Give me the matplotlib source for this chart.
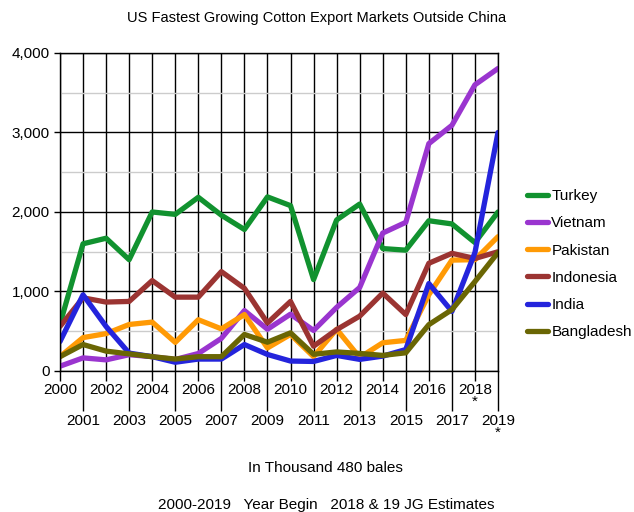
import matplotlib
matplotlib.use("Agg")
import matplotlib.pyplot as plt

plt.rcParams['font.family'] = ['Liberation Sans', 'DejaVu Sans']

# годы (2018 и 2019 - оценки)
years = list(range(2000, 2020))

# экспорт хлопка США, тыс. кип по 480 фунтов
turkey = [590, 1600, 1670, 1400, 2000, 1970, 2185, 1960, 1780, 2190,
          2080, 1150, 1900, 2100, 1540, 1520, 1890, 1850, 1615, 2000]
vietnam = [60, 165, 140, 205, 180, 145, 220, 410, 760, 525,
           715, 510, 800, 1050, 1735, 1870, 2860, 3090, 3600, 3805]
pakistan = [180, 420, 470, 585, 615, 360, 645, 530, 710, 290,
            460, 180, 525, 170, 355, 385, 960, 1395, 1400, 1690]
indonesia = [560, 920, 867, 875, 1137, 929, 929, 1250, 1040, 604,
             875, 312, 520, 690, 980, 710, 1355, 1480, 1415, 1500]
india = [370, 958, 560, 225, 180, 110, 150, 150, 333, 208,
         125, 120, 196, 146, 187, 270, 1100, 750, 1490, 3000]
bangladesh = [180, 333, 250, 215, 180, 150, 180, 180, 460, 362,
              480, 210, 240, 221, 196, 229, 583, 771, 1125, 1490]

series = [('Turkey', turkey, '#11922f'),
          ('Vietnam', vietnam, '#9a35cf'),
          ('Pakistan', pakistan, '#ff9a05'),
          ('Indonesia', indonesia, '#9b3432'),
          ('India', india, '#2424dc'),
          ('Bangladesh', bangladesh, '#6a6604')]

y_major = [0, 1000, 2000, 3000, 4000]
y_minor = [500, 1500, 2500, 3500]

fig = plt.figure(figsize=(6.34, 5.12), dpi=100)
ax = fig.add_axes([0.0946, 0.2754, 0.6909, 0.6211])

for name, vals, col in series:
    ax.plot(years, vals, color=col, lw=3.8, label=name,
            solid_joinstyle='round', solid_capstyle='round')

ax.set_xlim(2000, 2019)
ax.set_ylim(0, 4000)

# подписи по оси x в два ряда: четные сверху, нечетные снизу
even = [y for y in years if y % 2 == 0]
odd = [y for y in years if y % 2 == 1]
even_lbl = [str(y) + ('\n*' if y == 2018 else '') for y in even]
odd_lbl = [str(y) + ('\n*' if y == 2019 else '') for y in odd]
ax.set_xticks(even, even_lbl)
ax.set_xticks(odd, odd_lbl, minor=True)
ax.tick_params(axis='x', which='major', length=7, width=1, pad=2,
               labelsize=11, color='black')
ax.tick_params(axis='x', which='minor', length=29, width=1, pad=2,
               labelsize=11, color='black')
for lbl in ax.get_xticklabels(which='both'):
    lbl.set_linespacing(0.75)
    lbl.set_verticalalignment('top')

ax.set_yticks(y_major, [f'{v:,}' for v in y_major])
ax.set_yticks(y_minor, minor=True)
ax.tick_params(axis='y', which='major', length=4, width=1, labelsize=11)
ax.tick_params(axis='y', which='minor', length=0)

ax.grid(True, axis='x', which='both', color='black', lw=1)
ax.grid(True, axis='y', which='major', color='black', lw=1)
ax.grid(True, axis='y', which='minor', color='#cccccc', lw=1)
ax.set_axisbelow(True)
for s in ax.spines.values():
    s.set_color('black')
    s.set_linewidth(1)

fig.text(0.499, 0.965, 'US Fastest Growing Cotton Export Markets Outside China',
         ha='center', va='center', fontsize=10.5)
fig.text(0.514, 0.086, 'In Thousand 480 bales', ha='center', va='center', fontsize=11)
fig.text(0.514, 0.014, '2000-2019   Year Begin   2018 & 19 JG Estimates',
         ha='center', va='center', fontsize=11)

ax.legend(loc='center left', bbox_to_anchor=(0.831, 0.484),
          bbox_transform=fig.transFigure, frameon=False, fontsize=11,
          handlelength=1.4, handletextpad=0.2, labelspacing=0.86,
          borderpad=0, borderaxespad=0)

fig.savefig('out.png', dpi=100)
